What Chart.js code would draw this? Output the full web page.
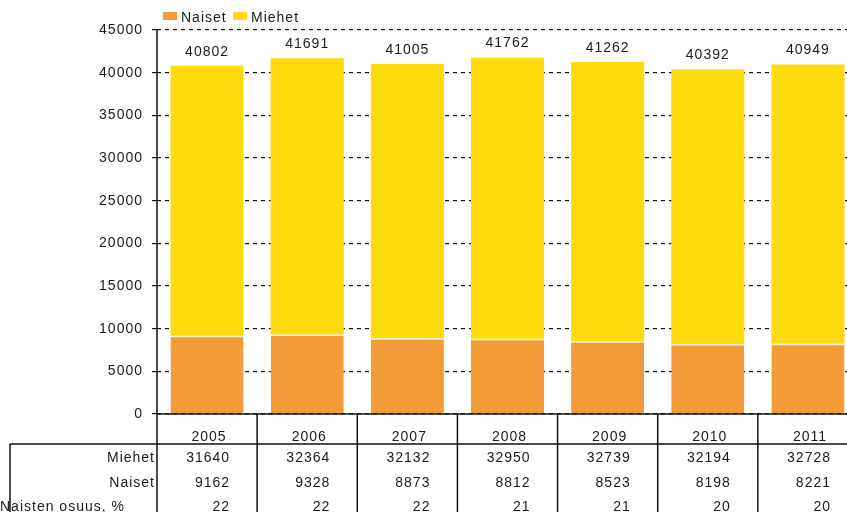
<!DOCTYPE html>
<html>
<head>
<meta charset="utf-8">
<script src="https://cdn.jsdelivr.net/npm/chart.js@4"></script>
<style>
    html, body { margin: 0; padding: 0; background: #fff; overflow: hidden; }
    #wrap { width: 860px; height: 512px; }
</style>
</head>
<body>
<div id="wrap"><canvas id="chart" width="860" height="512"></canvas></div>
<script>
// Data
const years = ['2005', '2006', '2007', '2008', '2009', '2010', '2011'];
const miehet = [31640, 32364, 32132, 32950, 32739, 32194, 32728];
const naiset = [9162, 9328, 8873, 8812, 8523, 8198, 8221];
const totals = [40802, 41691, 41005, 41762, 41262, 40392, 40949];
const naistenOsuus = [22, 22, 22, 21, 21, 20, 20];
const yTicks = [0, 5000, 10000, 15000, 20000, 25000, 30000, 35000, 40000, 45000];

const ORANGE = '#F29C37';
const YELLOW = '#FFDA0F';
const FONT = '14px "Liberation Sans", Arial, sans-serif';

// Helper to write text with a bit of letter spacing
function txt(ctx, s, x, y, align) {
    ctx.save();
    ctx.font = FONT;
    ctx.letterSpacing = '1px';
    ctx.fillStyle = '#1a1a1a';
    ctx.textAlign = align || 'center';
    ctx.textBaseline = 'middle';
    ctx.fillText(s, x, y);
    ctx.restore();
}

// Totals, y labels, legend and data table
const extras = {
    id: 'extras',
    afterDraw(chart) {
        const ctx = chart.ctx;
        const area = chart.chartArea;
        const x = chart.scales.x;
        const y = chart.scales.y;
        const colW = (area.right - area.left) / years.length;

        // y labels
        yTicks.forEach(v => txt(ctx, String(v), 143, y.getPixelForValue(v), 'right'));

        // totals above bars
        totals.forEach((t, i) => {
            txt(ctx, String(t), x.getPixelForValue(i), y.getPixelForValue(miehet[i] + naiset[i]) - 14);
        });

        // axis lines
        ctx.save();
        ctx.strokeStyle = '#111';
        ctx.lineWidth = 1.5;
        ctx.beginPath();
        ctx.moveTo(area.left, area.top);
        ctx.lineTo(area.left, 512);
        ctx.moveTo(area.left, area.bottom);
        ctx.lineTo(area.right, area.bottom);
        // table lines
        for (let i = 1; i <= years.length; i++) {
            const lx = area.left + i * colW;
            ctx.moveTo(lx, area.bottom);
            ctx.lineTo(lx, 512);
        }
        ctx.moveTo(10, 444);
        ctx.lineTo(area.right, 444);
        ctx.moveTo(10, 444);
        ctx.lineTo(10, 512);
        ctx.stroke();
        ctx.restore();

        // table text
        years.forEach((yr, i) => {
            const cx = x.getPixelForValue(i);
            const rx = area.left + (i + 1) * colW - 27;
            txt(ctx, yr, cx + 2, 437);
            txt(ctx, String(miehet[i]), rx, 458, 'right');
            txt(ctx, String(naiset[i]), rx, 483, 'right');
            txt(ctx, String(naistenOsuus[i]), rx, 507, 'right');
        });
        txt(ctx, 'Miehet', 155, 458, 'right');
        txt(ctx, 'Naiset', 155, 483, 'right');
        txt(ctx, 'Naisten osuus, %', 0, 507, 'left');

        // legend
        ctx.save();
        ctx.fillStyle = ORANGE;
        ctx.fillRect(163, 12, 14, 8);
        ctx.fillStyle = YELLOW;
        ctx.fillRect(233, 12, 14, 8);
        ctx.restore();
        txt(ctx, 'Naiset', 181, 18, 'left');
        txt(ctx, 'Miehet', 251, 18, 'left');
    }
};

new Chart(document.getElementById('chart').getContext('2d'), {
    type: 'bar',
    data: {
        labels: years,
        datasets: [
            {
                label: 'Naiset',
                data: naiset,
                backgroundColor: ORANGE,
                borderColor: '#FFF3D0',
                borderWidth: { top: 1.5, left: 0, right: 0, bottom: 0 },
                borderSkipped: false,
                categoryPercentage: 0.73,
                barPercentage: 1
            },
            {
                label: 'Miehet',
                data: miehet,
                backgroundColor: YELLOW,
                borderWidth: 0,
                categoryPercentage: 0.73,
                barPercentage: 1
            }
        ]
    },
    options: {
        responsive: false,
        animation: false,
        devicePixelRatio: 1,
        layout: { padding: { top: 30, right: 2, bottom: 98, left: 0 } },
        plugins: {
            legend: { display: false },
            tooltip: { enabled: false }
        },
        scales: {
            x: { stacked: true, display: false },
            y: {
                stacked: true,
                min: 0,
                max: 45000,
                ticks: { stepSize: 5000, display: false },
                grid: { color: '#111', lineWidth: 1.2, tickLength: 5, tickColor: '#111' },
                border: { display: false, dash: [4, 4] },
                afterFit: (scale) => { scale.width = 157; }
            }
        }
    },
    plugins: [extras]
});
</script>
</body>
</html>
